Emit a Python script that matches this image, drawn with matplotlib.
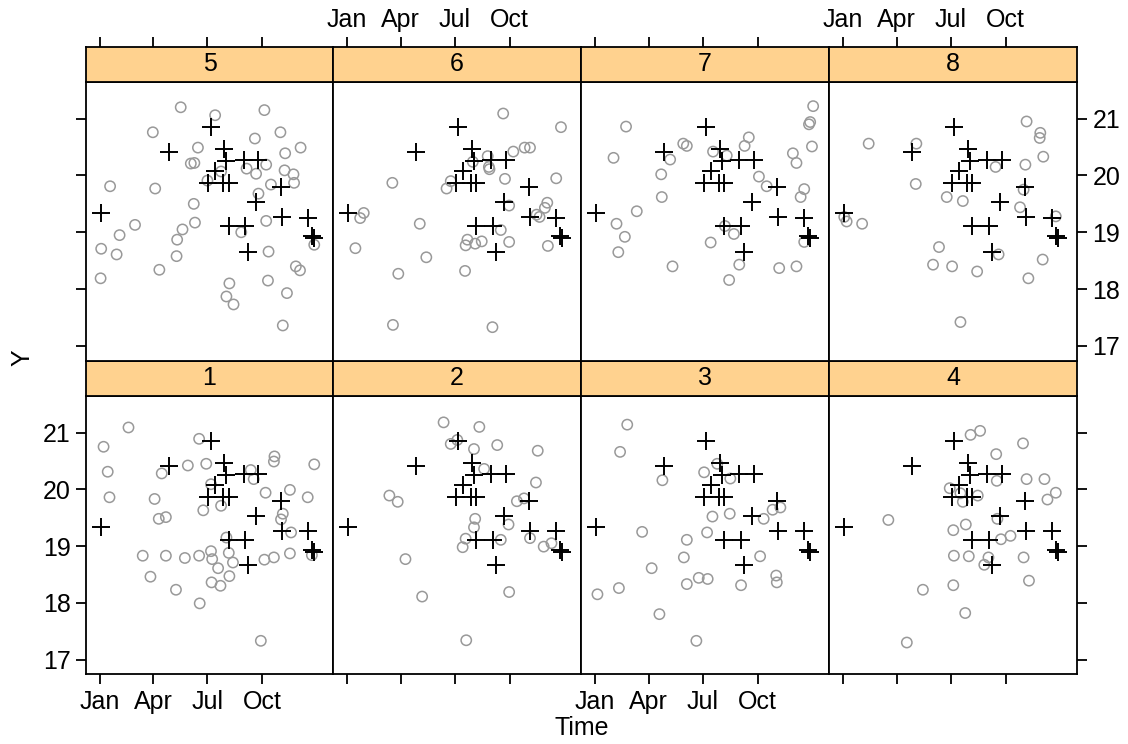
import numpy as np
import matplotlib.pyplot as plt

plt.rcParams['font.family'] = ['Liberation Sans', 'DejaVu Sans']

# observed series (same crosses in every panel), x = day of year
obs_day = [2, 116, 187, 209, 213, 242, 267, 194, 182, 208, 217, 305, 263, 307, 351, 217, 245, 250, 357, 361]
obs_y = [19.34, 20.41, 20.86, 20.46, 20.25, 20.27, 20.27, 20.08, 19.87, 19.87, 19.86, 19.79, 19.53,
         19.27, 19.26, 19.11, 19.11, 18.66, 18.93, 18.90]

# simulated series, one per panel
d1 = [48, 6, 167, 13, 294, 293, 361, 148, 179, 104, 254, 259, 187, 16, 92, 279, 320, 350, 204, 174,
      99, 111, 308, 305, 322, 213, 72, 111, 143, 167, 187, 189, 217, 224, 199, 277, 293, 320, 357, 85,
      128, 188, 203, 218, 168, 271]
y1 = [21.09, 20.75, 20.89, 20.31, 20.58, 20.49, 20.44, 20.42, 20.45, 20.28, 20.34, 20.18, 20.09, 19.86,
      19.83, 19.94, 19.99, 19.86, 19.71, 19.63, 19.48, 19.51, 19.57, 19.47, 19.24, 19.15, 18.83, 18.83,
      18.79, 18.83, 18.91, 18.77, 18.88, 18.71, 18.61, 18.76, 18.80, 18.87, 18.84, 18.46, 18.23, 18.36,
      18.30, 18.47, 17.99, 17.33]
d2 = [162, 222, 185, 174, 213, 252, 320, 230, 71, 85, 317, 285, 297, 215, 213, 271, 199, 194, 258, 307,
      330, 343, 98, 126, 272, 200]
y2 = [21.18, 21.10, 20.87, 20.80, 20.71, 20.78, 20.68, 20.36, 19.89, 19.78, 20.12, 19.79, 19.84, 19.48,
      19.33, 19.38, 19.13, 18.98, 19.11, 19.14, 18.99, 19.05, 18.77, 18.11, 18.19, 17.34]
d3 = [54, 42, 205, 183, 227, 113, 197, 226, 298, 311, 283, 79, 188, 154, 149, 277, 95, 174, 189, 154,
      245, 304, 305, 40, 4, 108, 170]
y3 = [21.14, 20.66, 20.45, 20.30, 20.19, 20.16, 19.52, 19.57, 19.64, 19.68, 19.48, 19.25, 19.24, 19.11,
      18.80, 18.82, 18.61, 18.44, 18.42, 18.33, 18.31, 18.48, 18.36, 18.26, 18.15, 17.80, 17.33]
d4 = [214, 230, 302, 257, 308, 338, 258, 179, 197, 226, 201, 357, 343, 76, 206, 185, 259, 265, 281, 186,
      211, 244, 237, 303, 312, 134, 185, 205, 107]
y4 = [20.96, 21.03, 20.81, 20.62, 20.18, 20.18, 20.15, 20.02, 19.93, 19.89, 19.78, 19.94, 19.82, 19.46,
      19.38, 19.28, 19.48, 19.12, 19.18, 18.83, 18.82, 18.80, 18.67, 18.80, 18.39, 18.23, 18.31, 17.82, 17.30]
d5 = [136, 194, 277, 89, 304, 261, 165, 338, 312, 153, 159, 280, 247, 263, 311, 326, 204, 17, 93, 181,
      288, 327, 267, 158, 59, 160, 280, 33, 139, 238, 2, 130, 28, 129, 284, 361, 100, 330, 337, 1,
      283, 218, 315, 213, 225, 308]
y5 = [21.20, 21.06, 21.15, 20.76, 20.76, 20.65, 20.49, 20.49, 20.39, 20.21, 20.22, 20.19, 20.12, 20.03,
      20.09, 20.02, 20.07, 19.81, 19.77, 19.91, 19.84, 19.87, 19.68, 19.50, 19.13, 19.17, 19.20, 18.95,
      19.05, 19.00, 18.71, 18.87, 18.61, 18.58, 18.66, 18.78, 18.34, 18.40, 18.33, 18.19, 18.15, 18.10,
      17.93, 17.87, 17.73, 17.36]
d6 = [262, 359, 76, 279, 298, 307, 236, 211, 238, 239, 265, 351, 174, 167, 28, 22, 272, 336, 332, 318,
      323, 122, 258, 202, 199, 215, 226, 272, 14, 337, 133, 86, 198, 77, 244]
y6 = [21.09, 20.85, 19.87, 20.42, 20.49, 20.49, 20.34, 20.24, 20.15, 20.11, 19.94, 19.95, 19.90, 19.77,
      19.34, 19.25, 19.47, 19.52, 19.43, 19.31, 19.27, 19.15, 19.04, 18.87, 18.77, 18.80, 18.84, 18.83,
      18.72, 18.76, 18.56, 18.27, 18.32, 17.37, 17.33]
d7 = [366, 361, 359, 52, 258, 148, 154, 251, 198, 221, 364, 332, 31, 126, 338, 111, 275, 288, 351, 345,
      112, 70, 36, 218, 50, 233, 194, 351, 39, 242, 130, 309, 338, 225]
y7 = [21.22, 20.94, 20.90, 20.86, 20.67, 20.56, 20.52, 20.52, 20.42, 20.35, 20.51, 20.39, 20.31, 20.28,
      20.22, 20.02, 19.98, 19.81, 19.76, 19.62, 19.62, 19.37, 19.15, 19.11, 18.92, 18.97, 18.82, 18.83,
      18.65, 18.43, 18.40, 18.37, 18.40, 18.16]
d8 = [308, 331, 330, 43, 123, 336, 256, 306, 122, 303, 174, 201, 297, 2, 6, 32, 357, 161, 261, 151,
      183, 225, 335, 311, 197]
y8 = [20.95, 20.75, 20.66, 20.56, 20.56, 20.33, 20.15, 20.19, 19.85, 19.75, 19.62, 19.55, 19.44, 19.27,
      19.19, 19.15, 19.28, 18.74, 18.61, 18.43, 18.40, 18.31, 18.52, 18.19, 17.42]

panels = {1: (d1, y1), 2: (d2, y2), 3: (d3, y3), 4: (d4, y4),
          5: (d5, y5), 6: (d6, y6), 7: (d7, y7), 8: (d8, y8)}

month_ticks = [0, 90, 181, 273]
month_labels = ["Jan", "Apr", "Jul", "Oct"]
y_ticks = [17, 18, 19, 20, 21]

STRIP = "#FFD28F"
GREY = "#999999"
FS = 18
LW = 1.3

fig = plt.figure(figsize=(11.28, 7.44), dpi=100)
W, H = 1128, 744
col_x = [86, 333, 581, 829, 1077]
rows = {0: (395.7, 674.3, 360.7), 1: (81.7, 360.7, 47.0)}  # panel top, panel bottom, strip top

for row in (0, 1):
    ptop, pbot, stop = rows[row]
    for c in range(4):
        n = row * 4 + c + 1
        x0 = col_x[c] / W
        w = (col_x[c + 1] - col_x[c]) / W
        ax = fig.add_axes([x0, 1 - pbot / H, w, (pbot - ptop) / H])
        sx = fig.add_axes([x0, 1 - ptop / H, w, (ptop - stop) / H])
        dd, yy = panels[n]
        ax.scatter(dd, yy, s=55, facecolors="none", edgecolors=GREY, linewidths=1.1, zorder=2)
        ax.scatter(obs_day, obs_y, s=170, marker="+", color="black", linewidths=1.4, zorder=3)
        ax.set_xlim(-23.6, 392.6)
        ax.set_ylim(16.74, 21.65)
        ax.set_xticks(month_ticks)
        ax.set_xticklabels(month_labels)
        ax.set_yticks(y_ticks)
        ax.tick_params(direction="out", length=7, width=LW, labelsize=FS, pad=4,
                       bottom=(row == 0), labelbottom=(row == 0 and c in (0, 2)),
                       top=False, labeltop=False,
                       left=(c == 0), labelleft=(row == 0 and c == 0),
                       right=(c == 3), labelright=(row == 1 and c == 3))
        for sp in ax.spines.values():
            sp.set_linewidth(LW)

        sx.set_facecolor(STRIP)
        sx.set_xlim(ax.get_xlim())
        sx.set_ylim(0, 1)
        sx.set_yticks([])
        sx.set_xticks(month_ticks)
        sx.set_xticklabels(month_labels)
        sx.tick_params(direction="out", length=7, width=LW, labelsize=FS, pad=4,
                       bottom=False, labelbottom=False,
                       top=(row == 1), labeltop=(row == 1 and c in (1, 3)))
        for sp in sx.spines.values():
            sp.set_linewidth(LW)
        sx.text(0.5, 0.5, str(n), transform=sx.transAxes, ha="center", va="center", fontsize=FS)

fig.text(582 / W, 1 - 728 / H, "Time", ha="center", va="center", fontsize=FS)
fig.text(22 / W, 1 - 358 / H, "Y", ha="center", va="center", rotation=90, fontsize=FS)

fig.savefig("out.png", dpi=100)
